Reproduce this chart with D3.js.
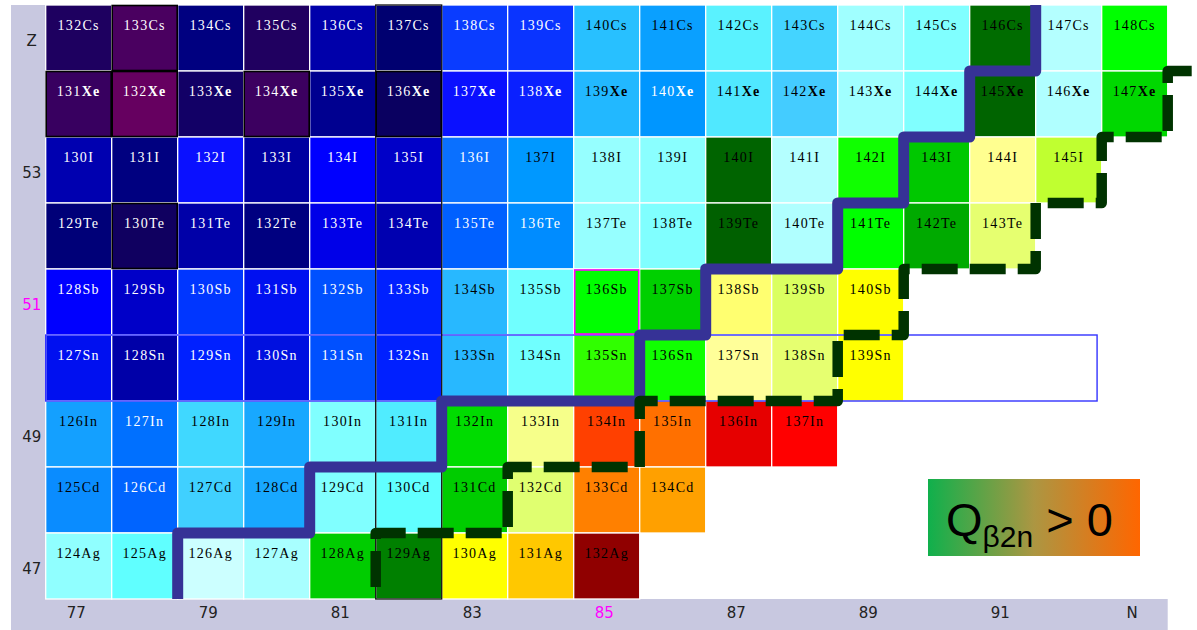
<!DOCTYPE html>
<html>
<head>
<meta charset="utf-8">
<script src="https://cdn.jsdelivr.net/npm/d3@7"></script>
<style>
  html, body { margin: 0; padding: 0; background: #fff; }
  svg { display: block; }
</style>
</head>
<body>
<svg id="chart" width="1197" height="630"></svg>
<script>
// ---- nuclide chart data (rows from Z = 55 down to Z = 47, columns start at N = 77) ----
const firstN = 77;
const protonNumbers = [55, 54, 53, 52, 51, 50, 49, 48, 47];
const elementSymbols = ["Cs", "Xe", "I", "Te", "Sb", "Sn", "In", "Cd", "Ag"];

const csFill = ["#1e0060", "#4a0060", "#000080", "#200060", "#0000aa", "#000070", "#0a3cff", "#0a34ff",
                "#28c0ff", "#0aa0ff", "#5af2ff", "#44d4ff", "#a0ffff", "#80ffff", "#006c00", "#b4ffff", "#00ff00"];
const xeFill = ["#380060", "#660060", "#120066", "#3c0060", "#000090", "#0a0060", "#0a10ff", "#0a20ff",
                "#22b8ff", "#0096ff", "#50e8ff", "#44ccff", "#a0ffff", "#80ffff", "#006400", "#b0ffff", "#00d800"];
const iFill  = ["#0000b0", "#000080", "#0a10ff", "#0000a0", "#0000ff", "#0000c8", "#0a70ff", "#0098ff",
                "#96ffff", "#8affff", "#006400", "#b4ffff", "#10ff00", "#00c800", "#ffff90", "#c0ff30"];
const teFill = ["#000078", "#100060", "#0000a8", "#000080", "#0000e8", "#0000b0", "#0060ff", "#008cff",
                "#96ffff", "#80ffff", "#006000", "#b0ffff", "#00ff00", "#00aa00", "#e6ff70"];
const sbFill = ["#0000ff", "#0000c8", "#0036ff", "#0010f0", "#0050ff", "#0020ff", "#28b8ff", "#70ffff",
                "#00ff00", "#00d000", "#ffff70", "#daff60", "#ffff00"];
const snFill = ["#0010f0", "#0000a8", "#0020ff", "#0010e0", "#0050ff", "#0020ff", "#28b8ff", "#70ffff",
                "#30ff00", "#10ff00", "#ffff99", "#e6ff70", "#ffff00"];
const inFill = ["#14a0ff", "#0070ff", "#40d8ff", "#18a8ff", "#80ffff", "#50ecff", "#00dc00", "#f6ff8a",
                "#ff4000", "#ff7000", "#e60000", "#ff0000"];
const cdFill = ["#0a8cff", "#0064ff", "#40d0ff", "#18a8ff", "#80ffff", "#60ffff", "#00cc00", "#e0ff70",
                "#ff8000", "#ffa000"];
const agFill = ["#90ffff", "#60ffff", "#ccffff", "#a8ffff", "#00cc00", "#008000", "#ffff00", "#ffc800",
                "#900000"];
const rowFills = [csFill, xeFill, iFill, teFill, sbFill, snFill, inFill, cdFill, agFill];

// nuclides written in white
const whiteLabelNuclides = [
  "132Cs", "133Cs", "134Cs", "135Cs", "136Cs", "137Cs", "138Cs", "139Cs",
  "131Xe", "132Xe", "133Xe", "134Xe", "135Xe", "136Xe", "137Xe", "138Xe", "140Xe",
  "130I", "131I", "132I", "133I", "134I", "135I", "136I",
  "129Te", "130Te", "131Te", "132Te", "133Te", "134Te", "135Te", "136Te",
  "128Sb", "129Sb", "130Sb", "131Sb", "132Sb", "133Sb",
  "127Sn", "128Sn", "129Sn", "130Sn", "131Sn", "132Sn",
  "127In", "126Cd"
];
const stableNuclides = ["133Cs", "131Xe", "132Xe", "134Xe", "136Xe", "130Te"];
const markedNuclide = "136Sb";
const magicN = 82;
const magicZ = 50;
const magicRowEndN = 92.43;

// staircase boundaries: first N to the right of the line, per Z row
const boundaryZ = [47, 48, 49, 50, 51, 52, 53, 54, 55];
const solidBoundaryN = [79, 81, 83, 86, 87, 89, 90, 91, 92];
const dashedBoundaryN = [82, 84, 86, 89, 90, 92, 93, 94];
const dashedTailN = 95.5;

// axis ticks
const nTickValues = [77, 79, 81, 83, 85, 87, 89, 91, 93];
const nTickLabels = ["77", "79", "81", "83", "85", "87", "89", "91", "N"];
const zTickValues = [55, 53, 51, 49, 47];
const zTickLabels = ["Z", "53", "51", "49", "47"];
const highlightedN = 85;
const highlightedZ = 51;

// ---- drawing ----
const svg = d3.select("#chart");
const plotLeft = 45.7, plotRight = 1167.7, plotTop = 5, plotBottom = 599;

const x = d3.scaleLinear().domain([firstN - 0.5, firstN + 16.5]).range([plotLeft, plotRight]);
const y = d3.scaleLinear().domain([46.5, 55.5]).range([plotBottom, plotTop]);
const cw = x(1) - x(0);
const ch = y(0) - y(1);

// axis bands
const band = "#c8c8e0";
svg.append("rect").attr("x", 11).attr("y", plotTop).attr("width", plotLeft - 11).attr("height", 630 - plotTop).attr("fill", band);
svg.append("rect").attr("x", 11).attr("y", plotBottom).attr("width", plotRight - 11).attr("height", 630 - plotBottom).attr("fill", band);

// cell records
const cells = [];
protonNumbers.forEach((Z, i) => {
  rowFills[i].forEach((fill, j) => {
    const N = firstN + j;
    const name = (N + Z) + elementSymbols[i];
    cells.push({ Z, N, A: N + Z, sym: elementSymbols[i], name, fill });
  });
});

const gCells = svg.append("g");
gCells.selectAll("rect").data(cells).join("rect")
  .attr("x", d => x(d.N - 0.5))
  .attr("y", d => y(d.Z + 0.5))
  .attr("width", cw)
  .attr("height", ch)
  .attr("fill", d => d.fill)
  .attr("stroke", "#ffffff")
  .attr("stroke-width", 1.3);

// magic Z = 50 row outline
svg.append("rect")
  .attr("x", x(firstN - 0.5)).attr("y", y(magicZ + 0.5))
  .attr("width", x(magicRowEndN) - x(firstN - 0.5)).attr("height", ch)
  .attr("fill", "none").attr("stroke", "#3333ff").attr("stroke-width", 1.4);

// magic N = 82 column outline
svg.append("rect")
  .attr("x", x(magicN - 0.5)).attr("y", plotTop)
  .attr("width", cw).attr("height", plotBottom - plotTop)
  .attr("fill", "none").attr("stroke", "#111").attr("stroke-width", 1.3);

// stable nuclides
svg.append("g").selectAll("rect").data(cells.filter(d => stableNuclides.includes(d.name))).join("rect")
  .attr("x", d => x(d.N - 0.5) + 0.5)
  .attr("y", d => y(d.Z + 0.5) + 0.5)
  .attr("width", cw - 1).attr("height", ch - 1)
  .attr("fill", "none").attr("stroke", "#000").attr("stroke-width", 1.6);

// highlighted nuclide
svg.append("g").selectAll("rect").data(cells.filter(d => d.name === markedNuclide)).join("rect")
  .attr("x", d => x(d.N - 0.5) + 1)
  .attr("y", d => y(d.Z + 0.5) + 1)
  .attr("width", cw - 2).attr("height", ch - 2)
  .attr("fill", "none").attr("stroke", "#ff00ff").attr("stroke-width", 1.6);

// labels
const labels = svg.append("g")
  .attr("font-family", "'Liberation Serif', 'DejaVu Serif', serif")
  .attr("font-size", 14)
  .attr("text-anchor", "middle");
const lbl = labels.selectAll("text").data(cells).join("text")
  .attr("x", d => x(d.N))
  .attr("y", d => y(d.Z + 0.5) + 25)
  .attr("letter-spacing", 1.3)
  .attr("fill", d => whiteLabelNuclides.includes(d.name) ? "#ffffff" : "#000000");
lbl.append("tspan").text(d => d.A);
lbl.append("tspan").text(d => d.sym).attr("font-weight", d => d.sym === "Xe" ? "bold" : null);

// staircase path builder
function stairs(boundaryN, zs) {
  const pts = [];
  zs.forEach((Z, i) => {
    const xx = x(boundaryN[i] - 0.5);
    pts.push([xx, y(Z - 0.5)]);
    pts.push([xx, y(Z + 0.5)]);
  });
  return pts;
}

const solidPts = stairs(solidBoundaryN, boundaryZ);
svg.append("path")
  .attr("d", d3.line()(solidPts))
  .attr("fill", "none")
  .attr("stroke", "#363296")
  .attr("stroke-width", 11)
  .attr("stroke-linejoin", "round");

const dashedPts = stairs(dashedBoundaryN, boundaryZ.slice(0, dashedBoundaryN.length));
dashedPts.push([x(dashedTailN), dashedPts[dashedPts.length - 1][1]]);
svg.append("path")
  .attr("d", d3.line()(dashedPts))
  .attr("fill", "none")
  .attr("stroke", "#003300")
  .attr("stroke-width", 10.5)
  .attr("stroke-linejoin", "round")
  .attr("stroke-dasharray", "36,12")
  .attr("stroke-dashoffset", 36);

// axes
const xAxis = d3.axisBottom(x).tickValues(nTickValues)
  .tickFormat((d, i) => nTickLabels[i]).tickSize(0);
const gx = svg.append("g").attr("transform", `translate(-3,${plotBottom})`).call(xAxis);
gx.select(".domain").remove();
gx.selectAll("text")
  .attr("font-family", "'DejaVu Sans', sans-serif")
  .attr("font-size", 15)
  .attr("y", 13)
  .attr("dy", "0.4em")
  .attr("fill", d => d === highlightedN ? "#ff00ff" : "#222");

const yAxis = d3.axisLeft(y).tickValues(zTickValues)
  .tickFormat((d, i) => zTickLabels[i]).tickSize(0);
const gy = svg.append("g").attr("transform", `translate(${plotLeft},3)`).call(yAxis);
gy.select(".domain").remove();
gy.selectAll("text")
  .attr("font-family", "'DejaVu Sans', sans-serif")
  .attr("font-size", 15)
  .attr("x", -14)
  .attr("text-anchor", "middle")
  .attr("fill", d => d === highlightedZ ? "#ff00ff" : "#222");

// Q_beta2n legend
const defs = svg.append("defs");
const grad = defs.append("linearGradient").attr("id", "qgrad").attr("x1", 0).attr("x2", 1).attr("y1", 0).attr("y2", 0);
grad.append("stop").attr("offset", 0).attr("stop-color", "#10b04c");
grad.append("stop").attr("offset", 0.5).attr("stop-color", "#ac9642");
grad.append("stop").attr("offset", 1).attr("stop-color", "#ff6600");

const legend = svg.append("g").attr("transform", "translate(928,479)");
legend.append("rect").attr("width", 212).attr("height", 77).attr("fill", "url(#qgrad)");
const lt = legend.append("text")
  .attr("x", 18).attr("y", 57)
  .attr("font-family", "'Liberation Sans', Arial, sans-serif")
  .attr("fill", "#000");
lt.append("tspan").attr("font-size", 47).text("Q");
lt.append("tspan").attr("font-size", 30).attr("dy", 11).text("β2n");
lt.append("tspan").attr("font-size", 47).attr("dy", -11).text(" > 0");
</script>
</body>
</html>
